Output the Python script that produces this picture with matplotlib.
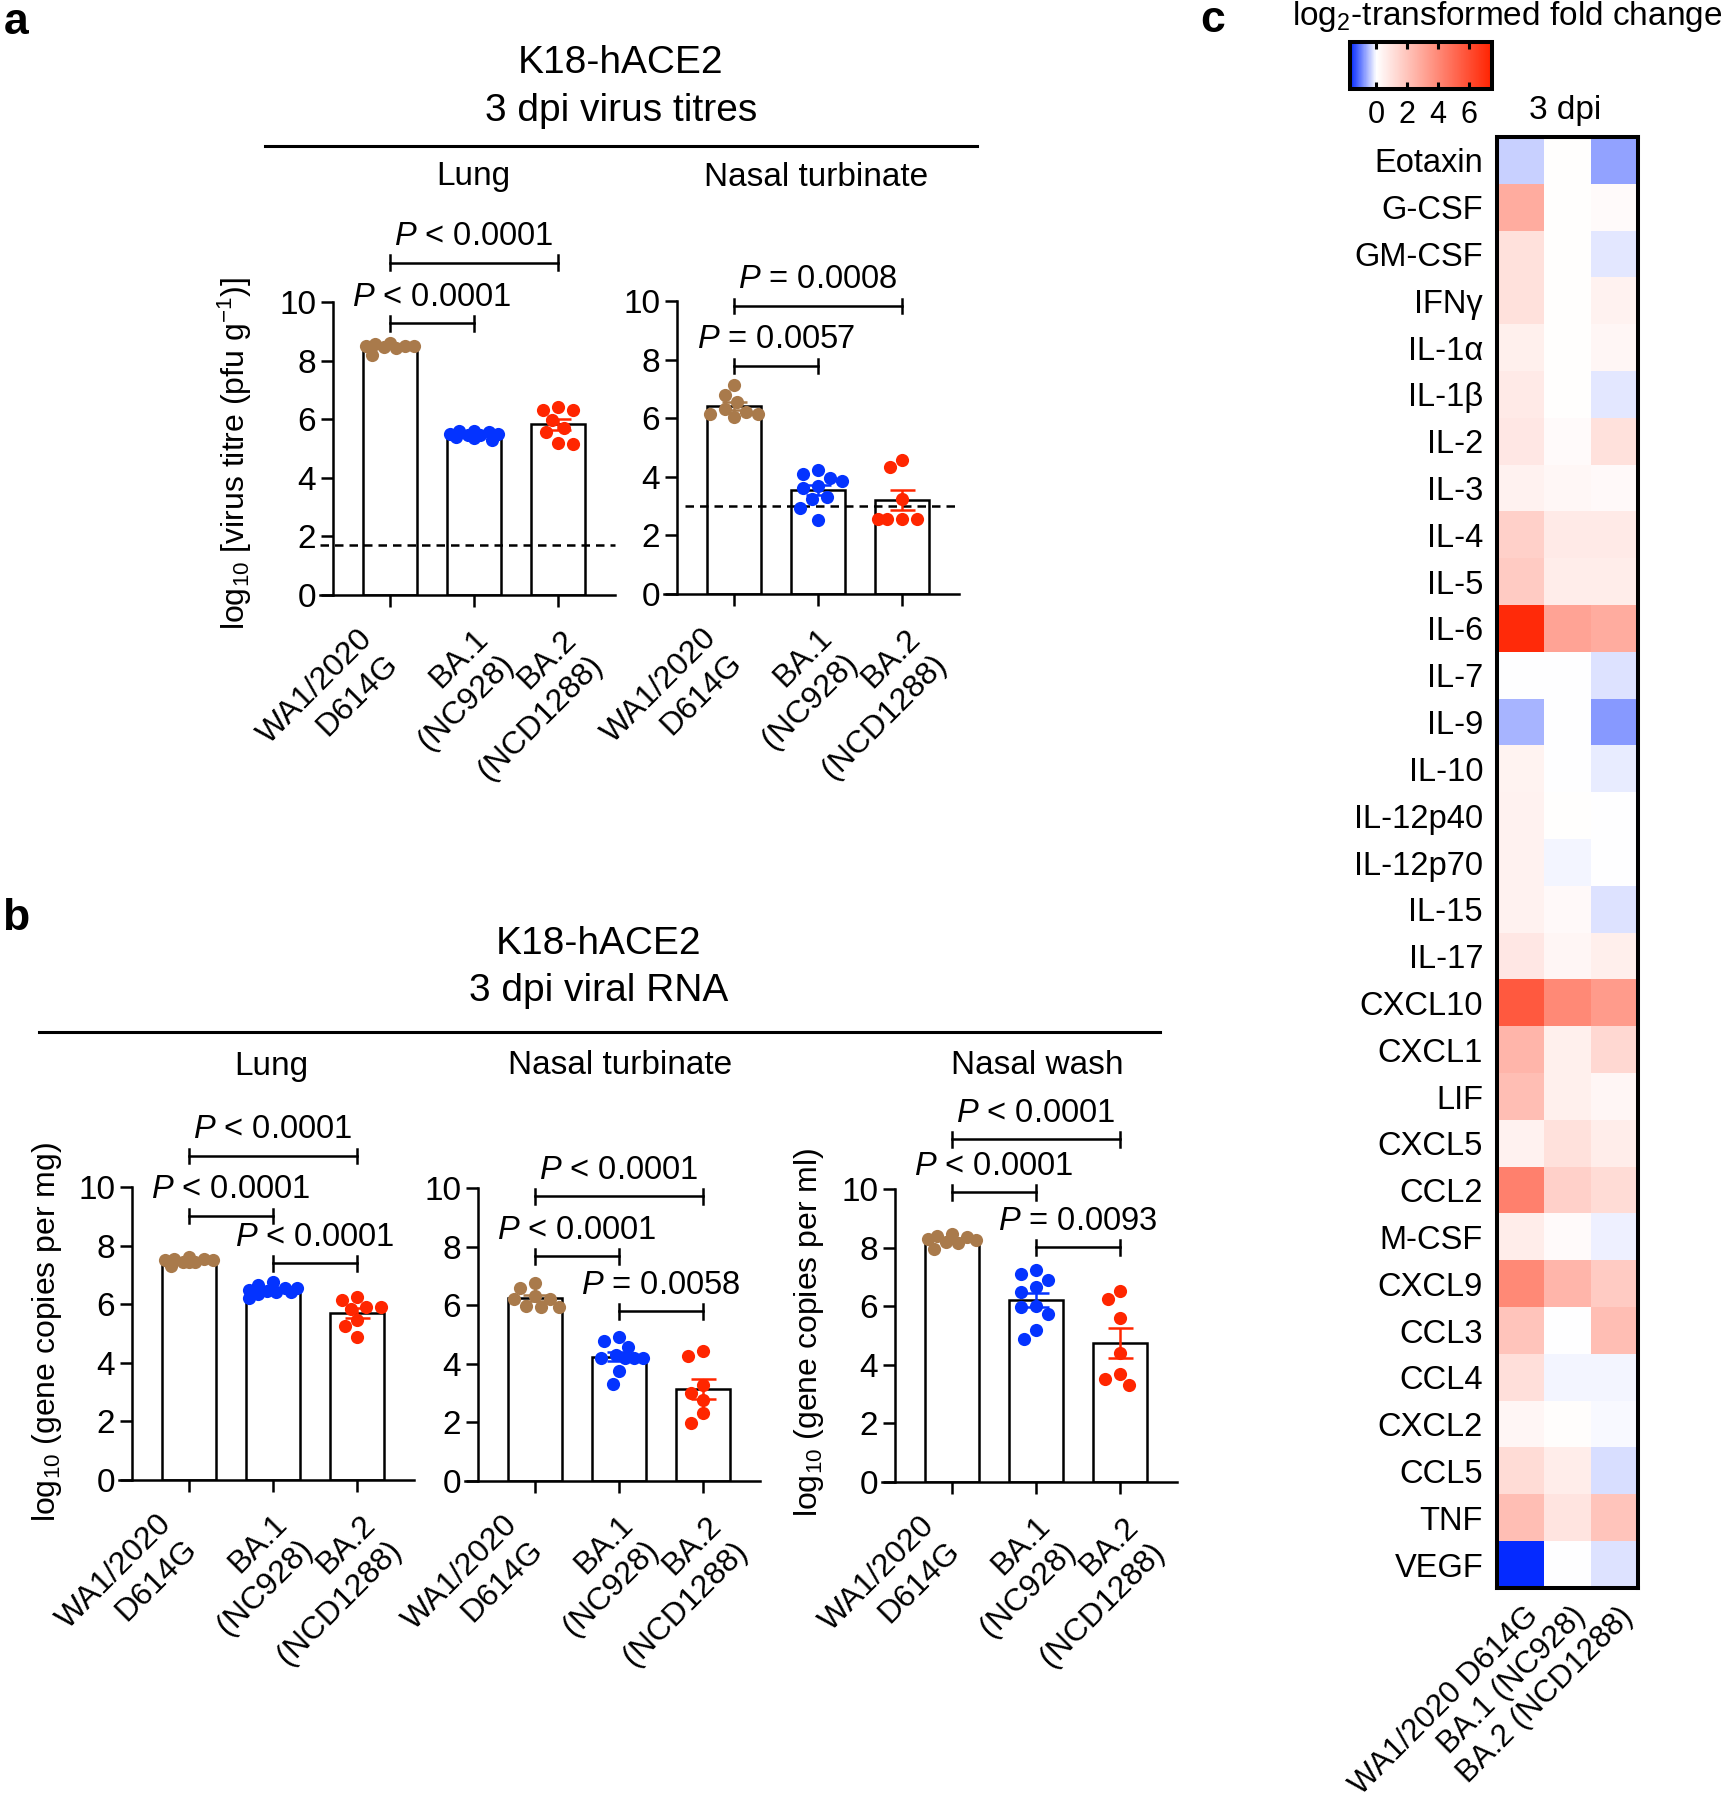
import numpy as np
import matplotlib
matplotlib.use("Agg")
import matplotlib.pyplot as plt
from matplotlib.colors import LinearSegmentedColormap, Normalize
from matplotlib.cm import ScalarMappable
from matplotlib.lines import Line2D
from matplotlib.transforms import ScaledTranslation

plt.rcParams["font.family"] = ["Liberation Sans", "DejaVu Sans"]
plt.rcParams["mathtext.fontset"] = "custom"
plt.rcParams["mathtext.rm"] = "Liberation Sans"
plt.rcParams["mathtext.it"] = "Liberation Sans:italic"
plt.rcParams["mathtext.bf"] = "Liberation Sans:bold"

# ----------------------------------------------------------------------
# data
GROUPS = ["WA1/2020\nD614G", "BA.1\n(NC928)", "BA.2\n(NCD1288)"]
STRAINS = ["WA1/2020 D614G", "BA.1 (NC928)", "BA.2 (NCD1288)"]
COLORS = ["#a97a4b", "#0433ff", "#ff2600"]

# a: log10 virus titre (pfu/g), 3 dpi
a_lung = [
    [8.45, 8.5, 8.42, 8.55, 8.5, 8.6, 8.2, 8.5],
    [5.45, 5.55, 5.5, 5.6, 5.3, 5.5, 5.6, 5.4, 5.45, 5.35],
    [6.32, 6.4, 6.3, 5.98, 5.7, 5.55, 5.15, 5.2],
]
a_nasal = [
    [6.15, 6.3, 7.15, 6.8, 6.55, 6.15, 6.2, 6.05],
    [4.23, 3.84, 3.24, 4.11, 3.61, 2.52, 3.69, 2.93, 3.95, 3.3],
    [4.57, 4.32, 3.24, 2.56, 2.56, 2.56, 2.56],
]
a_lod = [1.7, 3.0]
a_lung_p = ["< 0.0001", "< 0.0001"]
a_nasal_p = ["= 0.0057", "= 0.0008"]

# b: log10 viral RNA, 3 dpi
b_lung = [
    [7.45, 7.5, 7.55, 7.45, 7.55, 7.6, 7.3, 7.5, 7.45],
    [6.65, 6.45, 6.55, 6.5, 6.75, 6.4, 6.2, 6.55, 6.35, 6.4],
    [6.15, 5.89, 5.9, 5.85, 6.23, 4.89, 5.45, 5.26],
]
b_nasal = [
    [5.93, 6.2, 6.6, 6.3, 5.98, 6.75, 6.2, 5.93],
    [4.79, 4.93, 4.59, 4.19, 4.19, 4.3, 4.19, 4.19, 3.74, 3.31],
    [4.25, 4.42, 3.28, 3.0, 2.77, 2.31, 1.99],
]
b_wash = [
    [8.2, 8.4, 8.3, 8.15, 8.35, 8.45, 7.95, 8.25],
    [6.9, 5.99, 4.89, 7.1, 6.48, 5.97, 5.19, 7.22, 6.65, 5.74],
    [6.25, 6.53, 5.6, 4.4, 3.67, 3.5, 3.3],
]
b_lung_p = ["< 0.0001", "< 0.0001", "< 0.0001"]
b_nasal_p = ["< 0.0001", "< 0.0001", "= 0.0058"]
b_wash_p = ["< 0.0001", "< 0.0001", "= 0.0093"]

# c: log2 fold change of cytokines, 3 dpi
cytokines = ["Eotaxin", "G-CSF", "GM-CSF", "IFNγ", "IL-1α", "IL-1β", "IL-2",
             "IL-3", "IL-4", "IL-5", "IL-6", "IL-7", "IL-9", "IL-10",
             "IL-12p40", "IL-12p70", "IL-15", "IL-17", "CXCL10", "CXCL1",
             "LIF", "CXCL5", "CCL2", "M-CSF", "CXCL9", "CCL3", "CCL4",
             "CXCL2", "CCL5", "TNF", "VEGF"]
fc_wa1 = [-0.37, 2.8, 1.0, 1.0, 0.5, 0.7, 0.8, 0.45, 1.6, 1.75, 7.2, 0.02,
          -0.56, 0.4, 0.45, 0.45, 0.45, 0.8, 5.6, 2.5, 2.2, 0.45, 4.3, 0.6,
          4.0, 2.0, 1.1, 0.3, 1.2, 2.2, -1.65]
fc_ba1 = [0.05, 0.05, 0.05, 0.05, 0.05, 0.05, 0.15, 0.25, 0.7, 0.6, 3.1, 0.0,
          0.0, 0.02, 0.03, -0.05, 0.2, 0.3, 4.0, 0.5, 0.5, 1.0, 1.6, 0.15,
          2.5, 0.02, -0.07, 0.08, 0.6, 0.9, 0.02]
fc_ba2 = [-0.72, 0.15, -0.17, 0.45, 0.3, -0.17, 1.0, 0.2, 0.7, 0.6, 2.8, -0.2,
          -0.8, -0.15, 0.0, 0.02, -0.22, 0.55, 3.4, 1.3, 0.3, 0.6, 1.2, -0.1,
          1.75, 2.2, -0.07, -0.02, -0.25, 2.0, -0.2]
FC_MIN, FC_MAX = -1.7, 7.5
# ----------------------------------------------------------------------

W, H = 1721, 1800
fig = plt.figure(figsize=(W / 100, H / 100), dpi=100)

LW = 1.8
XLIM = (-0.83, 2.68)
PX_X = 84.0          # pixels per category
PX_Y = 29.3          # pixels per y unit
# anchor of the rotated group labels relative to (tick, axis line), in px (right, up)
LABEL_ANCHOR = [(-9, -52), (23, -52), (27, -53)]


def fx(px):
    return px / W


def fy(py):
    return 1 - py / H


def offset(dx, dy):
    return ScaledTranslation(dx / 100, dy / 100, fig.dpi_scale_trans)


def swarm(vals, d=13.0, maxw=26.0, step=3.0):
    """simple beeswarm offsets (in category units)"""
    vals = np.asarray(vals, dtype=float)
    offs = np.zeros(len(vals))
    placed = []
    cands = [0.0] + [s * k * step for k in range(1, int(maxw / step) + 1) for s in (-1, 1)]
    for i in np.argsort(-vals):
        y = vals[i] * PX_Y
        best, bestgap = 0.0, -1.0
        for c in cands:
            gap = min((np.hypot(c - px, y - py) for px, py in placed), default=1e9)
            if gap >= d:
                best = c
                break
            if gap > bestgap:
                bestgap, best = gap, c
        offs[i] = best
        placed.append((best, y))
    return offs / PX_X


def bracket(ax, i, j, y, label):
    ax.plot([i, j], [y, y], color="k", lw=LW, clip_on=False)
    for x in (i, j):
        ax.plot([x, x], [y - 0.25, y + 0.25], color="k", lw=LW, clip_on=False)
    ax.text((i + j) / 2, y + 0.6, "$P$ " + label, ha="center", va="baseline",
            fontsize=23.5, clip_on=False)


def bar_panel(left_px, y0_px, groups, brackets, lod=None, lod_start=XLIM[0]):
    ax = fig.add_axes([fx(left_px), fy(y0_px), 295 / W, 10 * PX_Y / H])
    ax.set_xlim(*XLIM)
    ax.set_ylim(0, 10)
    for k, vals in enumerate(groups):
        vals = np.asarray(vals)
        m = vals.mean()
        sem = vals.std(ddof=1) / np.sqrt(len(vals))
        ax.bar(k, m, width=0.64, facecolor="white", edgecolor="k", lw=LW, zorder=1)
        ax.scatter(k + swarm(vals), vals, s=90, color=COLORS[k], lw=0, zorder=3, clip_on=False)
        ax.errorbar(k, m, yerr=sem, fmt="none", ecolor=COLORS[k], elinewidth=LW,
                    capsize=9, capthick=LW, zorder=4)
    if lod is not None:
        ax.plot([lod_start, XLIM[1]], [lod, lod], color="k", lw=LW,
                ls=(0, (3.4, 2.4)), zorder=2, clip_on=False)
    for (i, j, y, lab) in brackets:
        bracket(ax, i, j, y, lab)
    for s in ("top", "right"):
        ax.spines[s].set_visible(False)
    ax.spines["left"].set_position(("data", -0.67))
    ax.spines["left"].set_linewidth(LW)
    ax.spines["bottom"].set_linewidth(LW)
    ax.set_yticks(range(0, 11, 2))
    ax.tick_params(axis="y", labelsize=24, length=8.5, width=LW, pad=4)
    ax.set_xticks(range(3))
    ax.set_xticklabels([])
    ax.tick_params(axis="x", length=8.5, width=LW)
    for k, (lab, (dx, dy)) in enumerate(zip(GROUPS, LABEL_ANCHOR)):
        ax.text(k, 0, lab, transform=ax.get_xaxis_transform() + offset(dx, dy),
                rotation=45, ha="right", va="center", rotation_mode="anchor",
                fontsize=23, linespacing=1.25, multialignment="right")
    return ax


# ---------------- panel a
bar_panel(320, 595, a_lung, [(0, 1, 9.27, a_lung_p[0]), (0, 2, 11.34, a_lung_p[1])],
          lod=a_lod[0])
bar_panel(664, 594, a_nasal, [(0, 1, 7.78, a_nasal_p[0]), (0, 2, 9.83, a_nasal_p[1])],
          lod=a_lod[1], lod_start=-0.58)

fig.text(fx(235), fy(453), r"log$_{10}$ [virus titre (pfu g$^{-1}$)]", rotation=90,
         ha="center", va="center", fontsize=23)
fig.text(fx(621), fy(63), "K18-hACE2", ha="center", va="center", fontsize=28)
fig.text(fx(621), fy(111), "3 dpi virus titres", ha="center", va="center", fontsize=28)
fig.add_artist(Line2D([fx(265), fx(977)], [fy(146), fy(146)], color="k", lw=2.2))
fig.text(fx(473), fy(177), "Lung", ha="center", va="center", fontsize=24)
fig.text(fx(816), fy(177), "Nasal turbinate", ha="center", va="center", fontsize=24)

# ---------------- panel b
bar_panel(119, 1480, b_lung, [(0, 1, 9.01, b_lung_p[0]), (0, 2, 11.06, b_lung_p[1]),
                              (1, 2, 7.39, b_lung_p[2])])
bar_panel(465, 1481, b_nasal, [(0, 1, 7.67, b_nasal_p[0]), (0, 2, 9.72, b_nasal_p[1]),
                               (1, 2, 5.79, b_nasal_p[2])])
bar_panel(882, 1482, b_wash, [(0, 1, 9.89, b_wash_p[0]), (0, 2, 11.7, b_wash_p[1]),
                              (1, 2, 8.01, b_wash_p[2])])

fig.text(fx(47), fy(1332), r"log$_{10}$ (gene copies per mg)", rotation=90,
         ha="center", va="center", fontsize=23)
fig.text(fx(809), fy(1332), r"log$_{10}$ (gene copies per ml)", rotation=90,
         ha="center", va="center", fontsize=23)
fig.text(fx(599), fy(944), "K18-hACE2", ha="center", va="center", fontsize=28)
fig.text(fx(599), fy(991), "3 dpi viral RNA", ha="center", va="center", fontsize=28)
fig.add_artist(Line2D([fx(39), fx(1160)], [fy(1032), fy(1032)], color="k", lw=2.2))
fig.text(fx(271), fy(1066), "Lung", ha="center", va="center", fontsize=24)
fig.text(fx(620), fy(1066), "Nasal turbinate", ha="center", va="center", fontsize=24)
fig.text(fx(1037), fy(1066), "Nasal wash", ha="center", va="center", fontsize=24)

# ---------------- panel c
cmap = LinearSegmentedColormap.from_list(
    "fc", [(0.0, "#0026ff"), (-FC_MIN / (FC_MAX - FC_MIN), "#ffffff"), (1.0, "#ff2200")])
norm = Normalize(vmin=FC_MIN, vmax=FC_MAX)
heat = np.column_stack([fc_wa1, fc_ba1, fc_ba2])

axh = fig.add_axes([fx(1497), fy(1588), 141 / W, 1451 / H])
axh.imshow(heat, cmap=cmap, norm=norm, aspect="auto", interpolation="nearest")
axh.set_yticks(range(len(cytokines)))
axh.set_yticklabels(cytokines, fontsize=23.5)
axh.set_xticks(range(3))
axh.set_xticklabels([])
axh.tick_params(length=0, pad=10)
for k, lab in enumerate(STRAINS):
    axh.text(k, 0, lab, transform=axh.get_xaxis_transform() + offset(14, -24),
             rotation=45, ha="right", va="center", rotation_mode="anchor", fontsize=22.5)
for s in axh.spines.values():
    s.set_linewidth(2.9)

cax = fig.add_axes([fx(1350), fy(89), 142 / W, 47 / H])
cb = fig.colorbar(ScalarMappable(norm=norm, cmap=cmap), cax=cax, orientation="horizontal")
cb.set_ticks([0, 2, 4, 6])
cb.outline.set_linewidth(2.9)
cax.tick_params(direction="in", length=5, width=2.2, top=True, labelsize=22, pad=8)
fig.text(fx(1507), fy(17), r"log$_2$-transformed fold change", ha="center", va="center",
         fontsize=24)
fig.text(fx(1565), fy(110), "3 dpi", ha="center", va="center", fontsize=24)

# panel letters
fig.text(fx(4), fy(2), "a", fontsize=32, weight="bold", ha="left", va="top")
fig.text(fx(2), fy(898), "b", fontsize=32, weight="bold", ha="left", va="top")
fig.text(fx(1200), fy(0), "c", fontsize=32, weight="bold", ha="left", va="top")

fig.savefig("out.png", dpi=100)
